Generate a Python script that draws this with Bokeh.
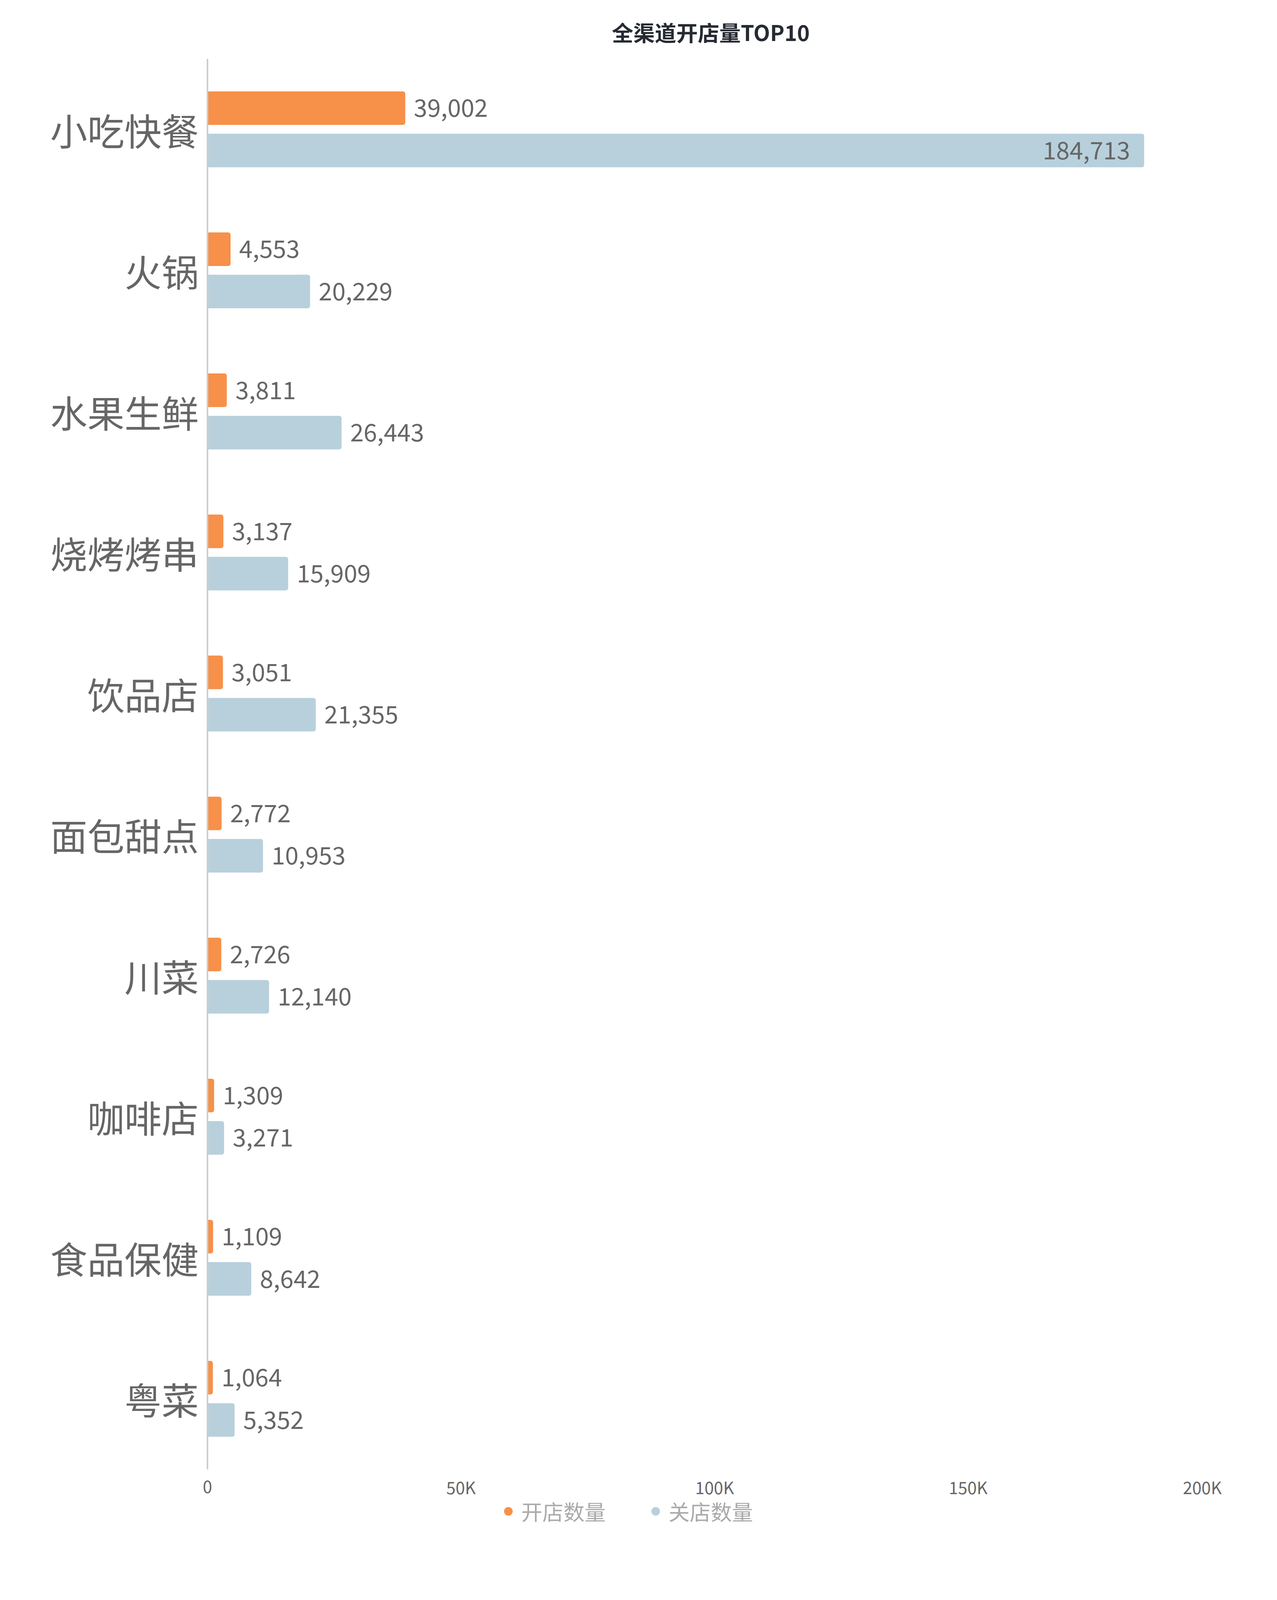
from bokeh.plotting import figure
from bokeh.models import (ColumnDataSource, Range1d, FixedTicker,
                          Legend, LegendItem)
from bokeh.core.properties import value
from bokeh.embed import file_html
from bokeh.resources import INLINE

# data
categories = ["小吃快餐", "火锅", "水果生鲜", "烧烤烤串", "饮品店",
              "面包甜点", "川菜", "咖啡店", "食品保健", "粤菜"]
open_counts = [39002, 4553, 3811, 3137, 3051, 2772, 2726, 1309, 1109, 1064]
close_counts = [184713, 20229, 26443, 15909, 21355, 10953, 12140, 3271, 8642, 5352]
series_names = ["开店数量", "关店数量"]
x_ticks = [0, 50000, 100000, 150000, 200000]
x_tick_labels = ["0", "50K", "100K", "150K", "200K"]

ORANGE = "#F79049"
BLUE = "#B8D0DC"
FONT = "Noto Sans CJK SC"

# the photographed page is capped at ~4100px tall, so the layout is compressed vertically
W, H = 3250, 3984
TOP = 150          # canvas y of the first category's top edge
CAT_BOTTOM = 3761  # canvas y of the last category's bottom edge
BOTTOM_PAD = 10
n = len(categories)
band = (CAT_BOTTOM - TOP) / n                    # px per category
y_lo = -(H - BOTTOM_PAD - CAT_BOTTOM) / band     # room under the bars for ticks + legend
tick_y = -44 / band
XMAX = 200000
x_lo = -1500

p = figure(width=W, height=H, output_backend="svg", toolbar_location=None,
           x_range=Range1d(x_lo, XMAX), y_range=Range1d(y_lo, n),
           min_border_left=511, min_border_right=124,
           min_border_top=TOP, min_border_bottom=BOTTOM_PAD)
p.outline_line_color = None
p.grid.visible = False
p.xaxis.visible = False
p.background_fill_color = "white"
p.border_fill_color = "white"

p.title.text = "全渠道开店量TOP10"
p.title.align = "center"
p.title.text_font = FONT
p.title.text_font_size = "55px"
p.title.text_font_style = "bold"
p.title.text_color = "#262a33"
p.title.standoff = 60

ypos = [n - 0.5 - i for i in range(n)]
off = 0.15
bh = 0.238

src = ColumnDataSource(data=dict(
    y_open=[y + off for y in ypos],
    y_close=[y - off for y in ypos],
    open=open_counts,
    close=close_counts,
    open_txt=[f"{v:,}" for v in open_counts],
    close_txt=[f"{v:,}" for v in close_counts],
    close_align=["right" if v > 0.75 * XMAX else "left" for v in close_counts],
    close_off=[-36 if v > 0.75 * XMAX else 22 for v in close_counts],
))

p.hbar(y="y_open", right="open", left=0, height=bh, source=src,
       fill_color=ORANGE, line_color=None, border_radius=(0, 6, 6, 0))
p.hbar(y="y_close", right="close", left=0, height=bh, source=src,
       fill_color=BLUE, line_color=None, border_radius=(0, 6, 6, 0))

p.text(x="open", y="y_open", text="open_txt", source=src, x_offset=22,
       text_baseline="middle", text_align="left",
       text_font_size="62px", text_color="#666666", text_font=value(FONT))
p.text(x="close", y="y_close", text="close_txt", source=src,
       x_offset="close_off", text_baseline="middle", text_align="close_align",
       text_font_size="62px", text_color="#666666", text_font=value(FONT))

# vertical axis line, only as long as the category bands
p.segment(x0=[0], y0=[0], x1=[0], y1=[n], line_color="#cccccc", line_width=4)

# category labels on the left axis
p.yaxis.ticker = FixedTicker(ticks=ypos)
p.yaxis.major_label_overrides = {y: c for y, c in zip(ypos, categories)}
p.yaxis.axis_line_color = None
p.yaxis.major_tick_line_color = None
p.yaxis.minor_tick_line_color = None
p.yaxis.major_tick_out = 0
p.yaxis.major_label_text_font = FONT
p.yaxis.major_label_text_font_size = "95px"
p.yaxis.major_label_text_color = "#666666"
p.yaxis.major_label_standoff = 3

# value-axis tick labels under the bars
tick_src = ColumnDataSource(data=dict(
    x=x_ticks, y=[tick_y] * len(x_ticks), label=x_tick_labels,
    align=["center"] * (len(x_ticks) - 1) + ["right"],
))
p.text(x="x", y="y", text="label", source=tick_src, text_align="align",
       text_baseline="middle", text_font_size="43px", text_color="#666666",
       text_font=value(FONT))

# legend with circle markers (hidden renderers only feed the legend glyphs)
r_open = p.scatter(x=[0], y=[0], marker="circle", size=22,
                   fill_color=ORANGE, line_color=None, visible=False)
r_close = p.scatter(x=[0], y=[0], marker="circle", size=22,
                    fill_color=BLUE, line_color=None, visible=False)
legend = Legend(items=[LegendItem(label=series_names[0], renderers=[r_open]),
                       LegendItem(label=series_names[1], renderers=[r_close])],
                orientation="horizontal", location=(762, 66),
                label_text_font=FONT, label_text_font_size="54px",
                label_text_color="#aaaaaa", glyph_width=55, glyph_height=55,
                label_standoff=6, spacing=100, border_line_color=None,
                background_fill_alpha=0, inactive_fill_alpha=0,
                padding=0, margin=0)
p.add_layout(legend)

open("out.html", "w").write(file_html(p, INLINE))
